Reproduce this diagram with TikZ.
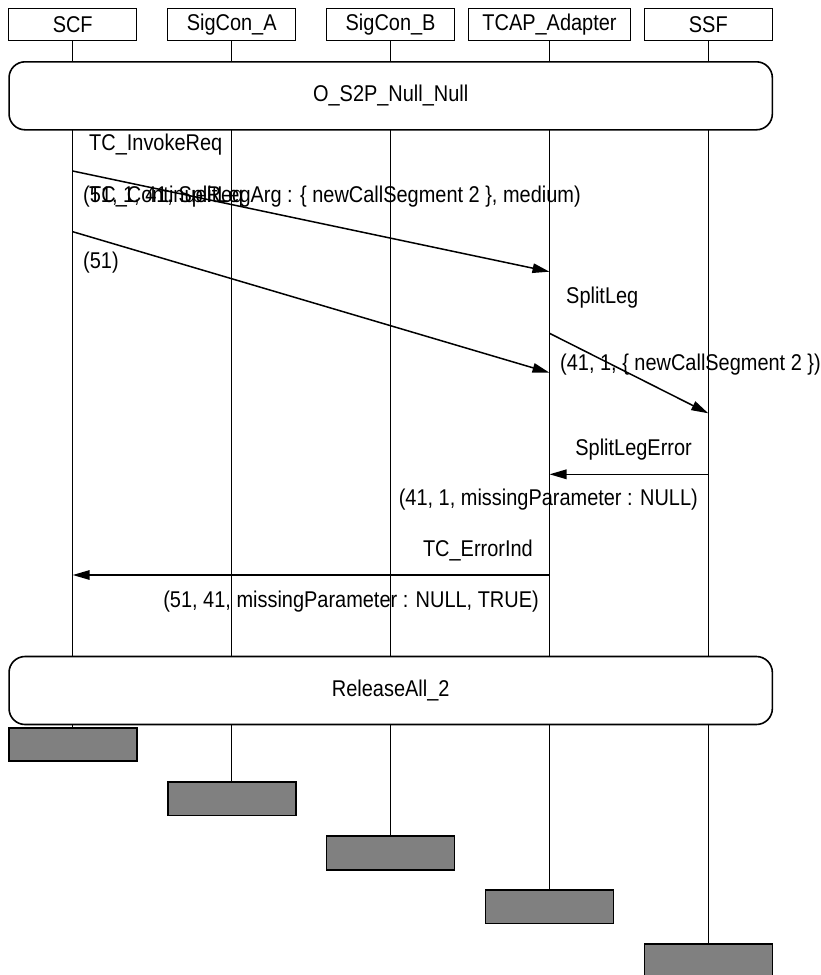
\documentclass[tikz,border=0pt]{standalone}
\usepackage{fontspec}
\setmainfont{Liberation Sans}[FakeStretch=0.875]
\usetikzlibrary{arrows.meta}
\begin{document}
\begin{tikzpicture}[x=1pt,y=-1pt,
  every node/.style={font=\fontsize{22.8}{26}\selectfont},
  head/.style={draw, line width=1.5pt, minimum height=32.4pt, inner sep=0pt},
  lane/.style={line width=1.4pt},
  phase/.style={draw, line width=1.6pt, rounded corners=16pt, fill=white, minimum width=763.3pt, minimum height=68pt, inner sep=0pt},
  endbox/.style={draw, line width=1.6pt, fill=black!50, minimum width=128pt, minimum height=33.5pt, inner sep=0pt},
  msg/.style={line width=1.5pt, -{Triangle[length=17pt,width=9.5pt]}},
  lbl/.style={inner sep=0pt}]
\useasboundingbox (0,0) rectangle (821,975);
% headers
\node[head, minimum width=128pt] (scf) at (72.7,24.5) {SCF};
\node[head, minimum width=128pt] (sca) at (231.7,24.5) {SigCon\_A};
\node[head, minimum width=128pt] (scb) at (390.6,24.5) {SigCon\_B};
\node[head, minimum width=162.4pt] (tcap) at (549.5,24.5) {TCAP\_Adapter};
\node[head, minimum width=128pt] (ssf) at (708.3,24.5) {SSF};
% end boxes
\node[endbox] (scfE) at (72.7,744.5) {};
\node[endbox] (scaE) at (231.7,798.7) {};
\node[endbox] (scbE) at (390.6,853) {};
\node[endbox] (tcapE) at (549.5,906.7) {};
\node[endbox] (ssfE) at (708.3,961) {};
% lifelines
\draw[lane] (scf.south) -- (scfE.north);
\draw[lane] (sca.south) -- (scaE.north);
\draw[lane] (scb.south) -- (scbE.north);
\draw[lane] (tcap.south) -- (tcapE.north);
\draw[lane] (ssf.south) -- (ssfE.north);
% phases
\node[phase] (p1) at (390.7,95.8) {O\_S2P\_Null\_Null};
\node[phase] (p2) at (390.7,690.5) {ReleaseAll\_2};
% message end points
\coordinate (m1s) at (72.7,171);
\coordinate (m1e) at (549.5,271.7);
\coordinate (m2s) at (72.7,231.7);
\coordinate (m2e) at (549.5,372.7);
\coordinate (m3s) at (549.5,333.3);
\coordinate (m3e) at (708.3,413.3);
\coordinate (m4s) at (708.3,474.3);
\coordinate (m4e) at (549.5,474.3);
\coordinate (m5s) at (549.5,575);
\coordinate (m5e) at (72.7,575);
\draw[msg] (m1s) -- (m1e);
\draw[msg] (m2s) -- (m2e);
\draw[msg] (m3s) -- (m3e);
\draw[msg] (m4s) -- (m4e);
\draw[msg] (m5s) -- (m5e);
% labels
\node[lbl, anchor=west] (l1) at (89,145) {TC\_InvokeReq};
\node[lbl, anchor=west] (l1p) at (83,197) {(51, 1, 41, SplitLegArg : \{ newCallSegment 2 \}, medium)};
\node[lbl, anchor=west] (l2) at (89,197) {TC\_ContinueReq};
\node[lbl, anchor=west] (l2p) at (83,263) {(51)};
\node[lbl, anchor=west] (l3) at (566,298) {SplitLeg};
\node[lbl, anchor=west] (l3p) at (560,365) {(41, 1, \{ newCallSegment 2 \})};
\node[lbl, anchor=east] (l4) at (692,450) {SplitLegError};
\node[lbl, anchor=east] (l4p) at (698,500) {(41, 1, missingParameter : NULL)};
\node[lbl, anchor=east] (l5) at (533,550) {TC\_ErrorInd};
\node[lbl, anchor=east] (l5p) at (539,601.7) {(51, 41, missingParameter : NULL, TRUE)};
\end{tikzpicture}
\end{document}
